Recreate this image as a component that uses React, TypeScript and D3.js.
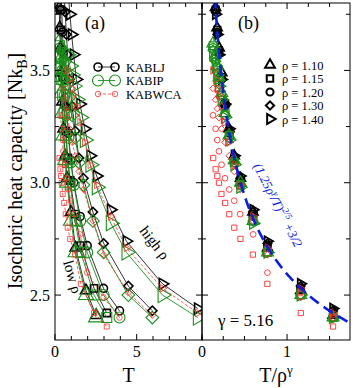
import React from "react";
import * as d3 from "d3";

// densities and isomorph scaling exponent
const densities = [1.1, 1.15, 1.2, 1.3, 1.4];
const densityLabels = ["ρ = 1.10", "ρ = 1.15", "ρ = 1.20", "ρ = 1.30", "ρ = 1.40"];
const shapes = ["triUp", "square", "circle", "diamond", "triRight"];
const gamma = 5.16;

// temperatures of the state points, one row per density
const temps = [
  [0.21, 0.26, 0.29, 0.33, 0.38, 0.44, 0.52, 0.62, 0.74, 0.98, 1.26, 1.9, 2.52],
  [0.27, 0.33, 0.37, 0.41, 0.47, 0.56, 0.66, 0.78, 0.93, 1.23, 1.58, 2.39, 3.17],
  [0.33, 0.41, 0.46, 0.51, 0.59, 0.69, 0.82, 0.97, 1.15, 1.54, 1.97, 2.97, 3.95],
  [0.5, 0.62, 0.7, 0.77, 0.89, 1.05, 1.24, 1.47, 1.74, 2.32, 2.98, 4.49, 5.96],
  [0.74, 0.91, 1.02, 1.14, 1.31, 1.53, 1.82, 2.16, 2.55, 3.41, 4.37, 6.58, 8.74],
];

// isochoric heat capacity per model, one row per density
const cvLJ = [
  [3.95, 3.78, 3.69, 3.6, 3.49, 3.36, 3.24, 3.12, 3.02, 2.87, 2.71, 2.52, 2.41],
  [3.94, 3.77, 3.68, 3.59, 3.47, 3.35, 3.23, 3.11, 3.01, 2.86, 2.72, 2.53, 2.42],
  [3.93, 3.77, 3.67, 3.58, 3.46, 3.34, 3.22, 3.1, 3.0, 2.85, 2.72, 2.53, 2.43],
  [3.92, 3.76, 3.66, 3.57, 3.46, 3.34, 3.23, 3.11, 3.02, 2.87, 2.73, 2.54, 2.43],
  [3.91, 3.75, 3.66, 3.57, 3.46, 3.35, 3.24, 3.12, 3.03, 2.88, 2.74, 2.55, 2.44],
];
const cvIP = [
  [3.62, 3.57, 3.52, 3.47, 3.4, 3.31, 3.21, 3.1, 3.0, 2.83, 2.69, 2.5, 2.4],
  [3.61, 3.56, 3.51, 3.46, 3.39, 3.31, 3.21, 3.09, 2.99, 2.83, 2.69, 2.5, 2.4],
  [3.6, 3.55, 3.5, 3.45, 3.39, 3.3, 3.2, 3.09, 2.99, 2.83, 2.69, 2.5, 2.4],
  [3.59, 3.54, 3.49, 3.44, 3.38, 3.3, 3.2, 3.09, 2.99, 2.83, 2.69, 2.5, 2.4],
  [3.57, 3.52, 3.48, 3.43, 3.37, 3.29, 3.19, 3.08, 2.98, 2.82, 2.69, 2.5, 2.4],
];
const cvWCA = [
  null,
  [3.11, 3.06, 3.03, 3.0, 2.95, 2.91, 2.86, 2.8, 2.75, 2.68, 2.55, 2.42, 2.36],
  [3.3, 3.24, 3.19, 3.14, 3.08, 3.02, 2.97, 2.92, 2.86, 2.77, 2.6, 2.49, 2.4],
  [3.42, 3.37, 3.33, 3.29, 3.24, 3.18, 3.12, 3.05, 2.97, 2.83, 2.68, 2.51, 2.41],
  [3.5, 3.46, 3.42, 3.39, 3.34, 3.27, 3.18, 3.08, 2.99, 2.85, 2.71, 2.53, 2.42],
];

const models = [
  { name: "KABLJ", color: "#000", cv: cvLJ, dash: null, lw: 0.8, areaA: 50, swA: 1.6, areaB: 40, swB: 1.8 },
  { name: "KABIP", color: "#1a901a", cv: cvIP, dash: null, lw: 0.9, areaA: 95, swA: 1.1, areaB: 58, swB: 1.2 },
  { name: "KABWCA", color: "#ff3030", cv: cvWCA, dash: "3,2", lw: 0.8, areaA: 24, swA: 0.8, areaB: 26, swB: 0.9 },
];

const W = 353, H = 388;
const top = 3, bottom = 340;
const aLeft = 55, mid = 202, bRight = 350;
const font = "'Liberation Serif', 'Times New Roman', serif";

const y = d3.scaleLinear().domain([2.3, 3.8]).range([bottom, top]);
const xa = d3.scaleLinear().domain([0, 9]).range([aLeft, mid]);
const xb = d3.scaleLinear().domain([0, 1.74]).range([mid, bRight]);

const shapeFactor: Record<string, number> = { circle: 1, square: 1.05, diamond: 0.85, triUp: 1.05, triRight: 1.05 };

const marker = (shape: string, area: number) => {
  const type = shape === "circle" ? d3.symbolCircle
    : shape === "square" || shape === "diamond" ? d3.symbolSquare : d3.symbolTriangle;
  return d3.symbol().type(type).size(area * shapeFactor[shape])() as string;
};
const rot = (shape: string) => (shape === "diamond" ? 45 : shape === "triRight" ? 90 : 0);

const Marker = ({ shape, x, yy, area, color, sw }: any) => (
  <path d={marker(shape, area)} transform={`translate(${x},${yy}) rotate(${rot(shape)})`}
    fill="none" stroke={color} strokeWidth={sw} />
);

export default function App() {
  const lineA = d3.line<[number, number]>().x((d) => xa(d[0])).y((d) => y(d[1]));

  const curve = d3.line<number>()
    .x((d) => xb(d))
    .y((d) => y(1.5 + Math.pow(1.25 / d, 0.4)));
  const curveX = d3.range(0.14, 1.75, 0.005);

  const xaTicks = d3.range(0, 10, 1);
  const xbTicks = d3.range(0, 1.75, 0.25);
  const yTicks = d3.range(2.5, 3.8, 0.25);

  return (
    <svg width={W} height={H} style={{ position: "absolute", left: 0, top: 0, background: "#fff" }}
      fontFamily={font}>
      <defs>
        <clipPath id="clipA"><rect x={aLeft} y={top} width={mid - aLeft} height={bottom - top} /></clipPath>
        <clipPath id="clipB"><rect x={mid} y={top} width={bRight - mid} height={bottom - top} /></clipPath>
      </defs>

      {/* panel (a): lines and markers */}
      <g clipPath="url(#clipA)">
        {models.map((m) =>
          densities.map((rho, i) => {
            const cv = m.cv[i];
            if (!cv) return null;
            const pts = temps[i].map((t, k) => [t, cv[k]] as [number, number]);
            return (
              <g key={m.name + i}>
                <path d={lineA(pts) as string} fill="none" stroke={m.color} strokeWidth={m.lw}
                  strokeDasharray={m.dash || undefined} />
                {pts.map((p, k) => (
                  <Marker key={k} shape={shapes[i]} x={xa(p[0])} yy={y(p[1])} area={m.areaA}
                    color={m.color} sw={m.swA} />
                ))}
              </g>
            );
          })
        )}
      </g>

      {/* panel (b): scaled temperature */}
      <g clipPath="url(#clipB)">
        {models.map((m) =>
          densities.map((rho, i) => {
            const cv = m.cv[i];
            if (!cv) return null;
            const scale = Math.pow(rho, gamma);
            return (
              <g key={m.name + i}>
                {temps[i].map((t, k) => (
                  <Marker key={k} shape={shapes[i]} x={xb(t / scale)} yy={y(cv[k])} area={m.areaB}
                    color={m.color} sw={m.swB} />
                ))}
              </g>
            );
          })
        )}
        <path d={curve(curveX) as string} fill="none" stroke="#0a1ee0" strokeWidth={2.6}
          strokeDasharray="11,6" />
      </g>

      {/* frames */}
      <rect x={aLeft} y={top} width={mid - aLeft} height={bottom - top} fill="none" stroke="#000" strokeWidth={1} />
      <rect x={mid} y={top} width={bRight - mid} height={bottom - top} fill="none" stroke="#000" strokeWidth={1} />

      {/* ticks */}
      {xaTicks.map((t) => {
        const len = t % 5 === 0 ? 6 : 4;
        return (
          <g key={"xa" + t} stroke="#000">
            <line x1={xa(t)} x2={xa(t)} y1={bottom} y2={bottom - len} />
            <line x1={xa(t)} x2={xa(t)} y1={top} y2={top + len} />
          </g>
        );
      })}
      {xbTicks.map((t) => {
        const len = t % 1 === 0 ? 6 : 4;
        return (
          <g key={"xb" + t} stroke="#000">
            <line x1={xb(t)} x2={xb(t)} y1={bottom} y2={bottom - len} />
            <line x1={xb(t)} x2={xb(t)} y1={top} y2={top + len} />
          </g>
        );
      })}
      {yTicks.map((t) => {
        const len = Math.abs(t * 2 - Math.round(t * 2)) < 1e-6 ? 6 : 4;
        return (
          <g key={"y" + t} stroke="#000">
            <line x1={aLeft} x2={aLeft + len} y1={y(t)} y2={y(t)} />
            <line x1={mid - len} x2={mid + len} y1={y(t)} y2={y(t)} />
            <line x1={bRight - len} x2={bRight} y1={y(t)} y2={y(t)} />
          </g>
        );
      })}

      {/* tick labels */}
      {[2.5, 3.0, 3.5].map((t) => (
        <text key={"yl" + t} x={50} y={y(t) + 5.5} textAnchor="end" fontSize={16}>{t.toFixed(1)}</text>
      ))}
      {[0, 5].map((t) => (
        <text key={"xal" + t} x={xa(t)} y={357} textAnchor="middle" fontSize={16}>{t}</text>
      ))}
      {[0, 1].map((t) => (
        <text key={"xbl" + t} x={xb(t)} y={357} textAnchor="middle" fontSize={16}>{t}</text>
      ))}

      {/* axis titles */}
      <text x={(aLeft + mid) / 2} y={382} textAnchor="middle" fontSize={20}>T</text>
      <text x={(mid + bRight) / 2} y={382} textAnchor="middle" fontSize={20}>
        T/ρ<tspan dy={-8} fontSize={13}>γ</tspan>
      </text>
      <text transform="translate(22,171) rotate(-90)" textAnchor="middle" fontSize={20}>
        Isochoric heat capacity [Nk<tspan dy={5} fontSize={14}>B</tspan><tspan dy={-5}>]</tspan>
      </text>

      {/* panel labels */}
      <text x={85} y={29} fontSize={18}>(a)</text>
      <text x={238} y={29} fontSize={18}>(b)</text>

      {/* legend (a) */}
      {models.map((m, i) => {
        const ly = 67 + i * 13.5;
        return (
          <g key={"lg" + m.name}>
            <line x1={98} x2={115} y1={ly} y2={ly} stroke={m.color} strokeWidth={m.lw}
              strokeDasharray={m.dash || undefined} />
            <Marker shape="circle" x={98} yy={ly} area={m.areaA} color={m.color} sw={m.swA} />
            <Marker shape="circle" x={115} yy={ly} area={m.areaA} color={m.color} sw={m.swA} />
            <text x={126} y={ly + 4.5} fontSize={12.5}>{m.name}</text>
          </g>
        );
      })}

      {/* legend (b) */}
      {densityLabels.map((lab, i) => {
        const ly = 65 + i * 13.5;
        return (
          <g key={"lb" + i}>
            <Marker shape={shapes[i]} x={270} yy={ly} area={40} color="#000" sw={2} />
            <text x={282} y={ly + 4.5} fontSize={12.5}>{lab}</text>
          </g>
        );
      })}

      {/* annotations */}
      <text transform="translate(139,231) rotate(52)" fontSize={15}>high ρ</text>
      <text transform="translate(63,262) rotate(74)" fontSize={15}>low ρ</text>
      <text x={218} y={326} fontSize={17}>γ = 5.16</text>
      <text transform="translate(253,166) rotate(63)" fontSize={13} fill="#0a1ee0" fontStyle="italic">
        (1.25ρ<tspan dy={-5} fontSize={9}>γ</tspan><tspan dy={5}>/T)</tspan>
        <tspan dy={-6} fontSize={9}>2/5</tspan><tspan dy={6}> +3/2</tspan>
      </text>
    </svg>
  );
}
